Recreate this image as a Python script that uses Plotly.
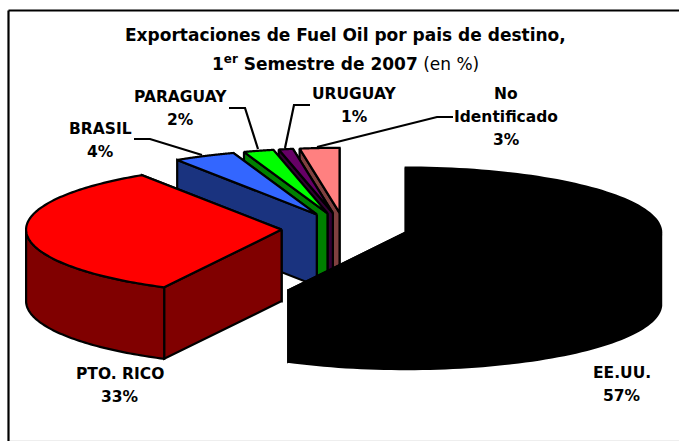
import math
import plotly.graph_objects as go

# ---- data ----
categories = ["EE.UU.", "PTO. RICO", "BRASIL", "PARAGUAY", "URUGUAY", "No Identificado"]
values = [57.6, 33.2, 3.9, 1.9, 0.9, 2.5]
top_colors = ["#000000", "#FF0000", "#3366FF", "#00FF00", "#660066", "#FF8080"]
side_colors = ["#000000", "#800000", "#1A337F", "#008000", "#330033", "#804040"]
label_lines = [["EE.UU.", "57%"], ["PTO. RICO", "33%"], ["BRASIL", "4%"], ["PARAGUAY", "2%"],
               ["URUGUAY", "1%"], ["No", "Identificado", "3%"]]
label_xy = [(622, 373), (120, 374), (100, 129), (180, 97), (354, 94), (506, 94)]
leaders = [
    [(134, 139), (150, 139), (202, 155)],
    [(229, 108), (245, 108), (258, 149)],
    [(310, 105), (294, 105), (285, 148)],
    [(453, 117), (437, 117), (317, 147)],
]

# ---- projection of the tilted pie ----
W, H = 679, 441
CX, CY = 344.5, 228.8
RX, RY = 255.5, 65.0
EXPLODE = 63.0
DEPTH = 71.5
FONT = "DejaVu Sans"
LINE_GAP = 23


def rim(ax, ay, t):
    return ax + RX * math.sin(t), ay - RY * math.cos(t)


fig = go.Figure()


def poly(pts, fill, line=2.2, lc="#000000"):
    fig.add_trace(go.Scatter(
        x=[p[0] for p in pts] + [pts[0][0]],
        y=[p[1] for p in pts] + [pts[0][1]],
        mode="lines", fill="toself", fillcolor=fill,
        line=dict(color=lc, width=line, simplify=False),
        hoverinfo="skip", showlegend=False))


# slice geometry
total = sum(values)
slices = []
acc = 0.0
for v in values:
    a0 = acc / total * 2 * math.pi
    acc += v
    a1 = acc / total * 2 * math.pi
    mid = (a0 + a1) / 2
    ax = CX + EXPLODE * math.sin(mid)
    ay = CY - EXPLODE * (RY / RX) * math.cos(mid)
    slices.append((a0, a1, ax, ay))

# painter's order: back slices first, then red, then black
for i in [5, 4, 3, 2, 1, 0]:
    a0, a1, ax, ay = slices[i]
    n = 120
    arc = [rim(ax, ay, a0 + (a1 - a0) * k / n) for k in range(n + 1)]
    # radial wall at the end of the slice (usually hidden)
    e = arc[-1]
    poly([(ax, ay), e, (e[0], e[1] + DEPTH), (ax, ay + DEPTH)], side_colors[i])
    # radial wall at the start of the slice
    s = arc[0]
    poly([(ax, ay), s, (s[0], s[1] + DEPTH), (ax, ay + DEPTH)], side_colors[i])
    # outer wall, lower half only
    vis = [p for k, p in enumerate(arc)
           if math.pi / 2 <= (a0 + (a1 - a0) * k / n) <= 3 * math.pi / 2]
    if vis:
        poly(vis + [(p[0], p[1] + DEPTH) for p in reversed(vis)], side_colors[i])
    # top face
    poly([(ax, ay)] + arc, top_colors[i])

for pts in leaders:
    fig.add_trace(go.Scatter(x=[p[0] for p in pts], y=[p[1] for p in pts], mode="lines",
                             line=dict(color="#000000", width=2.2),
                             hoverinfo="skip", showlegend=False))

annotations = []
for lines, (x, y) in zip(label_lines, label_xy):
    for j, txt in enumerate(lines):
        annotations.append(dict(x=x, y=y + j * LINE_GAP, text=f"<b>{txt}</b>", showarrow=False,
                                xref="x", yref="y",
                                font=dict(family=FONT, size=15.5, color="#000000"), align="center",
                                borderpad=0, xanchor="center", yanchor="middle"))
annotations.append(dict(x=345.5, y=35, text="<b>Exportaciones de Fuel Oil por pais de destino,</b>",
                        showarrow=False, xref="x", yref="y",
                        font=dict(family=FONT, size=17, color="#000000")))
annotations.append(dict(x=345.5, y=63,
                        text="<b>1<sup>er</sup> Semestre de 2007</b> (en %)",
                        showarrow=False, xref="x", yref="y",
                        font=dict(family=FONT, size=17, color="#000000")))

fig.update_layout(
    width=W, height=H, margin=dict(l=0, r=0, t=0, b=0),
    paper_bgcolor="#FFFFFF", plot_bgcolor="#FFFFFF",
    xaxis=dict(range=[0, W], visible=False, fixedrange=True),
    yaxis=dict(range=[H, 0], visible=False, fixedrange=True),
    annotations=annotations,
    shapes=[
        dict(type="line", xref="x", yref="y", x0=8.5, y0=10.5, x1=679, y1=10.5, line=dict(color="#000000", width=2.2)),
        dict(type="line", xref="x", yref="y", x0=8.5, y0=10.5, x1=8.5, y1=441, line=dict(color="#000000", width=2.2)),
        dict(type="line", xref="x", yref="y", x0=10, y0=440.5, x1=679, y1=440.5, line=dict(color="#EEEEEE", width=1)),
    ],
)
fig.write_html("out.html", config={"displayModeBar": False},
               post_script="document.body.style.margin='0';document.body.style.overflow='hidden';")
